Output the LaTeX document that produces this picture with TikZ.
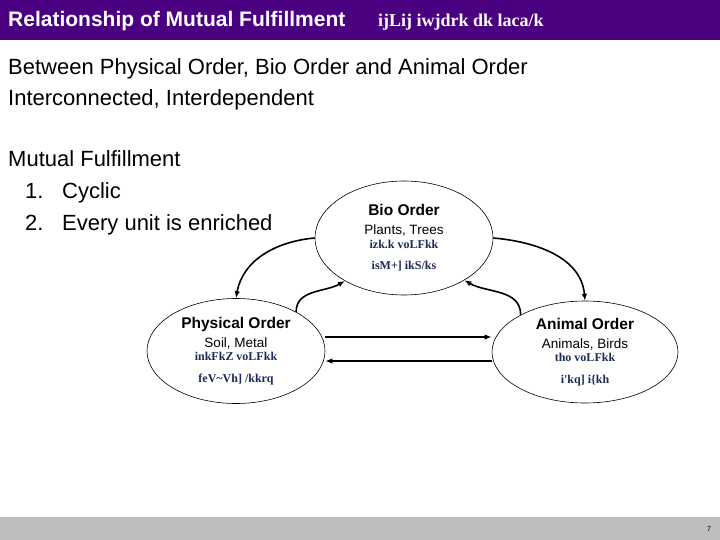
\documentclass[tikz,border=0pt]{standalone}
\usepackage{fontspec}
\setmainfont{Liberation Sans}
\newfontfamily\krfont{Liberation Serif}
\usepackage{tikz}
\usetikzlibrary{arrows.meta,shapes.geometric}
\definecolor{barPurple}{HTML}{4B0082}
\definecolor{barGrey}{HTML}{BEBEBE}
\definecolor{hindiBlue}{HTML}{1C2A55}
\newcommand{\ordhead}[1]{{\fontsize{15.5}{19}\selectfont\bfseries #1}}
\newcommand{\ordsub}[1]{{\fontsize{13.5}{19}\selectfont #1}}
\newcommand{\ordhin}[1]{{\krfont\fontsize{12}{19}\selectfont\bfseries\color{hindiBlue}#1}}

\begin{document}
\begin{tikzpicture}[x=1pt,y=-1pt,>=Latex,
    body/.style={anchor=base west,inner sep=0,font=\fontsize{22}{26}\selectfont},
    order/.style={draw,ellipse,line width=0.6pt,inner sep=0,align=center,
      font=\fontsize{13.5}{19}\selectfont},
    link/.style={->,line width=1.6pt,-{Latex[length=7pt,width=5.5pt]}}]
    \useasboundingbox (0,0) rectangle (720,540);
    \fill[barPurple] (0,0) rectangle (720,40);
    \fill[barGrey] (0,517) rectangle (720,540);
    \node[anchor=base west,inner sep=0,text=white,font=\fontsize{21}{24}\selectfont\bfseries] (title) at (8,27) {Relationship of Mutual Fulfillment};
    \node[anchor=base west,inner sep=0,text=white,font=\krfont\fontsize{18}{20}\selectfont\bfseries] (titlehin) at (378,27) {ijLij iwjdrk dk laca/k};
    \node[font=\fontsize{7}{8}\selectfont,inner sep=0] (pagenum) at (709,529) {7};
    % text on the left
    \node[body] (between) at (8,75) {Between Physical Order, Bio Order and Animal Order};
    \node[body] (inter) at (8,106) {Interconnected, Interdependent};
    \node[body] (mutual) at (8,167) {Mutual Fulfillment};
    \node[body] (cyclic) at (25,199) {\makebox[37pt][l]{1.}Cyclic};
    \node[body] (enrich) at (25,230) {\makebox[37pt][l]{2.}Every unit is enriched};
    % the three orders
    \node[order,minimum width=178pt,minimum height=114pt] (bio) at (404,238)
      {\ordhead{Bio Order}\\ \ordsub{Plants, Trees}\\[-5.5pt] \ordhin{izk.k voLFkk}\\[2.5pt] \ordhin{isM+] ikS/ks}};
    \node[order,minimum width=178pt,minimum height=105pt] (phys) at (236,351)
      {\ordhead{Physical Order}\\ \ordsub{Soil, Metal}\\[-5.5pt] \ordhin{inkFkZ voLFkk}\\[2.5pt] \ordhin{feV\textasciitilde Vh] /kkrq}};
    \node[order,minimum width=186pt,minimum height=102pt] (anim) at (585,352)
      {\ordhead{Animal Order}\\ \ordsub{Animals, Birds}\\[-5.5pt] \ordhin{tho voLFkk}\\[2.5pt] \ordhin{i'kq] i\{kh}};
    \draw[link] (bio.west) to[out=185,in=80] (phys.north);
    \draw[link] (phys.33) to[out=90,in=210] (bio.216);
    \draw[link] (bio.east) to[out=-5,in=95] (anim.north);
    \draw[link] (anim.150) to[out=90,in=-30] (bio.325);
    \draw[link] ([yshift=14pt]phys.east) -- ([yshift=14pt]phys.east -| anim.west);
    \draw[link] ([yshift=-10pt]phys.east -| anim.west) -- ([yshift=-10pt]phys.east);
  \end{tikzpicture}
\end{document}
